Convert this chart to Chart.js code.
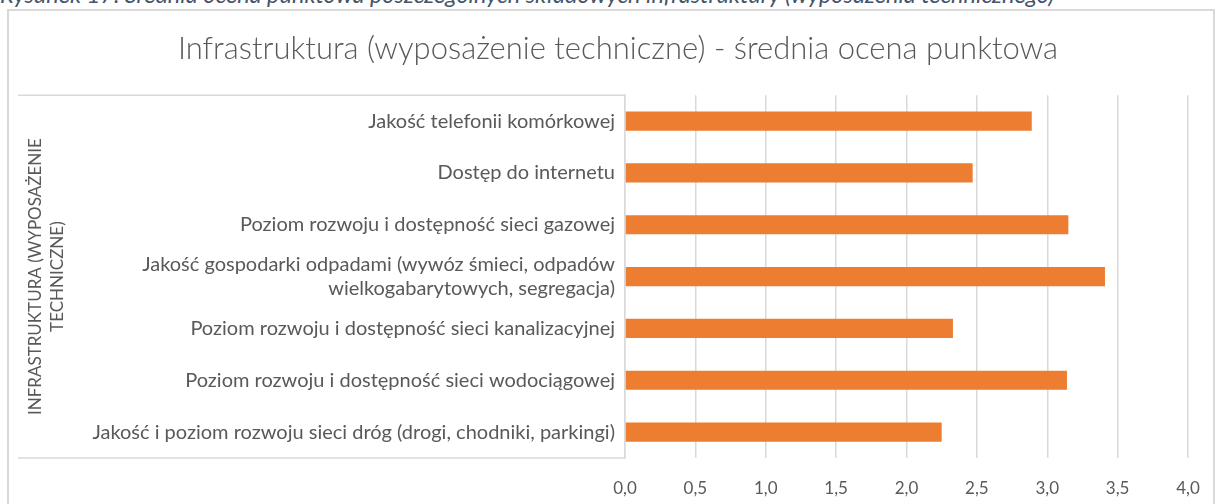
<!DOCTYPE html>
<html>
<head>
<meta charset="utf-8">
<script src="https://cdn.jsdelivr.net/npm/chart.js"></script>
<style>
    html, body { margin: 0; padding: 0; background: #fff; overflow: hidden; }
    #caption {
        position: absolute; left: 0; top: -20px;
        font: italic 23.5px Lato, sans-serif; color: #44546A; white-space: nowrap;
    }
    #wrap { position: absolute; left: 0; top: 0; width: 1223px; height: 504px; }
</style>
</head>
<body>
<div id="caption">Rysunek 17. Średnia ocena punktowa poszczególnych składowych infrastruktury (wyposażenia technicznego)</div>
<div id="wrap"><canvas id="myChart"></canvas></div>
<script>
// categories, top to bottom
var categories = [
    "Jakość telefonii komórkowej",
    "Dostęp do internetu",
    "Poziom rozwoju i dostępność sieci gazowej",
    ["Jakość gospodarki odpadami (wywóz śmieci, odpadów", "wielkogabarytowych, segregacja)"],
    "Poziom rozwoju i dostępność sieci kanalizacyjnej",
    "Poziom rozwoju i dostępność sieci wodociągowej",
    "Jakość i poziom rozwoju sieci dróg (drogi, chodniki, parkingi)"
];
var scores = [2.89, 2.47, 3.15, 3.41, 2.33, 3.14, 2.25];
var xTickLabels = ["0,0", "0,5", "1,0", "1,5", "2,0", "2,5", "3,0", "3,5", "4,0"];
var groupLabel = ["INFRASTRUKTURA (WYPOSAŻENIE", "TECHNICZNE)"];
var chartTitle = "Infrastruktura (wyposażenie techniczne) - średnia ocena punktowa";

var gridColor = "#D9D9D9";
var textColor = "#595959";

// outer frame + the group box lines left of the axis
var framePlugin = {
    id: "frame",
    beforeDraw: function (chart) {
        var ctx = chart.ctx, a = chart.chartArea;
        ctx.save();
        ctx.strokeStyle = gridColor;
        ctx.lineWidth = 2;
        ctx.strokeRect(8, 10, 1206, 540);
        ctx.lineWidth = 1.5;
        ctx.beginPath();
        ctx.moveTo(18, a.top); ctx.lineTo(a.left, a.top);
        ctx.moveTo(18, a.bottom); ctx.lineTo(a.left, a.bottom);
        ctx.stroke();
        ctx.restore();
    }
};

new Chart("myChart", {
    type: "bar",
    data: {
        labels: categories,
        datasets: [{
            data: scores,
            backgroundColor: "#ED7D31",
            categoryPercentage: 1,
            barPercentage: 0.37
        }]
    },
    options: {
        indexAxis: "y",
        responsive: true,
        maintainAspectRatio: false,
        animation: false,
        // left padding is wider so the main title centres where the reference has it
        layout: { padding: { left: 48, right: 35, top: 10, bottom: 0 } },
        plugins: {
            legend: { display: false },
            tooltip: { enabled: false },
            title: {
                display: true,
                text: chartTitle,
                color: textColor,
                font: { family: "Lato", size: 31, weight: "300", lineHeight: 1.2 },
                padding: { top: 20, bottom: 28 }
            }
        },
        scales: {
            x: {
                min: 0,
                max: 4,
                ticks: {
                    stepSize: 0.5,
                    color: textColor,
                    font: { family: "Lato", size: 17 },
                    padding: 20,
                    callback: function (value, index) { return xTickLabels[index]; }
                },
                grid: { color: gridColor, lineWidth: 1.5, drawTicks: false },
                border: { display: false },
                afterFit: function (scale) { scale.height = 46; }
            },
            y: {
                ticks: {
                    color: textColor,
                    font: { family: "Lato", size: 20, lineHeight: 1.2 },
                    padding: 10
                },
                grid: { display: false, drawTicks: false },
                border: { display: true, color: gridColor, width: 1.5 },
                title: {
                    display: true,
                    text: groupLabel,
                    color: textColor,
                    font: { family: "Lato", size: 17, lineHeight: 1.3 },
                    padding: { top: -24, bottom: 0 }
                },
                afterFit: function (scale) { scale.width = 577; }
            }
        }
    },
    plugins: [framePlugin]
});
</script>
</body>
</html>
